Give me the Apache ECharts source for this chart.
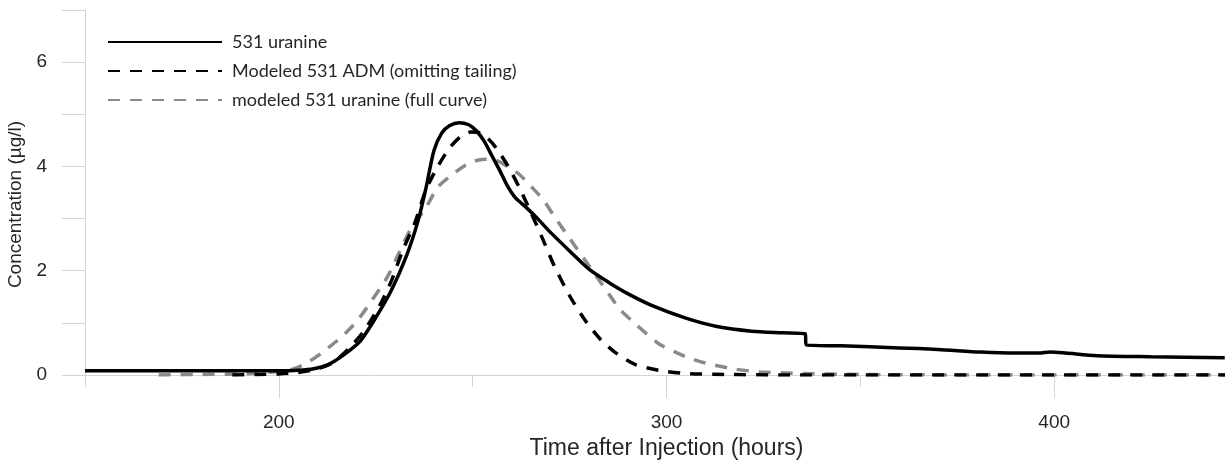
<!DOCTYPE html>
<html>
<head>
<meta charset="utf-8">
<script src="https://cdn.jsdelivr.net/npm/echarts@6/dist/echarts.min.js"></script>
<style>
html, body { margin: 0; padding: 0; background: #fff; }
#chart { width: 1225px; height: 463px; }
</style>
</head>
<body>
<div id="chart"></div>
<script>
// series names
var seriesNames = ['531 uranine', 'Modeled 531 ADM (omitting tailing)', 'modeled 531 uranine (full curve)'];

// measured 531 uranine
var obsTime = [150, 170, 190, 200, 205, 209, 213, 217, 221, 225, 229, 233, 236, 238, 240, 242, 244, 246.5, 249, 251, 253, 255, 257, 259, 261, 264, 267, 270, 275, 280, 285, 290, 296, 305, 313, 322, 330, 335.8, 336, 345, 360, 370, 381, 390, 396, 399, 403, 411, 425, 444];
var obsConc = [0.08, 0.08, 0.08, 0.08, 0.09, 0.12, 0.21, 0.4, 0.65, 1.1, 1.62, 2.3, 2.98, 3.6, 4.3, 4.64, 4.78, 4.84, 4.8, 4.68, 4.48, 4.2, 3.92, 3.62, 3.4, 3.2, 2.98, 2.74, 2.38, 2.03, 1.78, 1.56, 1.34, 1.09, 0.93, 0.84, 0.81, 0.79, 0.58, 0.56, 0.52, 0.49, 0.44, 0.42, 0.42, 0.44, 0.42, 0.37, 0.35, 0.33];

// ADM model, tailing omitted
var admTime = [188, 195, 200, 205, 210, 214, 218, 222, 226, 229, 232, 235, 238, 241, 244, 247, 249.5, 252, 254, 256, 259, 262, 265, 268, 271, 275, 279, 283, 287, 292, 298, 305, 315, 330, 350, 380, 450];
var admConc = [0, 0.01, 0.02, 0.05, 0.12, 0.24, 0.5, 0.85, 1.33, 1.8, 2.4, 2.9, 3.56, 4.0, 4.35, 4.58, 4.66, 4.64, 4.53, 4.36, 4.02, 3.6, 3.12, 2.62, 2.1, 1.52, 1.05, 0.68, 0.42, 0.2, 0.09, 0.03, 0.01, 0, 0, 0, 0];

// full curve model
var fullTime = [169, 180, 190, 197, 203, 207, 211, 216, 220, 224, 228, 231, 234, 238, 241, 245, 249, 253, 256, 259, 262, 265, 268, 271, 275, 279, 283, 288, 292, 298, 305, 310, 317, 324, 335, 350, 380, 450];
var fullConc = [0, 0.01, 0.02, 0.05, 0.1, 0.22, 0.42, 0.72, 1.02, 1.43, 1.88, 2.34, 2.8, 3.22, 3.6, 3.86, 4.06, 4.14, 4.12, 4.0, 3.85, 3.62, 3.38, 3.05, 2.62, 2.2, 1.78, 1.26, 0.98, 0.6, 0.35, 0.23, 0.12, 0.06, 0.03, 0.01, 0, 0];

var xMajorTicks = [200, 300, 400];

function pairs(t, c) {
	return t.map(function(v, i) { return [v, c[i]]; });
}

var myChart = echarts.init(document.getElementById('chart'));
var axisGray = '#d4d4d4';
var textColor = '#262626';

var option = {
	animation: false,
	backgroundColor: '#fff',
	grid: { left: 85, top: 10, width: 1163, height: 365, outerBoundsMode: 'none' },
	legend: {
		orient: 'vertical',
		left: 107,
		top: 33,
		padding: 0,
		itemWidth: 114,
		itemHeight: 14,
		itemGap: 11,
		itemStyle: { opacity: 0 },
		textStyle: { fontFamily: 'Lato', fontSize: 18, color: textColor, padding: [0, 0, 0, 5] },
		data: seriesNames
	},
	xAxis: [{
		type: 'value',
		min: 150,
		max: 450,
		interval: 50,
		position: 'bottom',
		name: 'Time after Injection (hours)',
		nameLocation: 'middle',
		nameGap: 47,
		nameTextStyle: { fontFamily: 'Liberation Sans', fontSize: 23, color: textColor },
		axisLine: { onZero: false, lineStyle: { color: axisGray, width: 1 } },
		axisTick: { length: 12, lineStyle: { color: axisGray } },
		axisLabel: {
			margin: 38,
			fontFamily: 'Liberation Sans',
			fontSize: 19,
			color: textColor,
			formatter: function(v) { return v % 100 === 0 && v < 450 ? v : ''; }
		},
		splitLine: { show: false }
	}, {
		type: 'value',
		min: 150,
		max: 450,
		position: 'bottom',
		axisLine: { show: false },
		axisTick: { show: true, length: 23, customValues: xMajorTicks, lineStyle: { color: axisGray } },
		axisLabel: { show: false },
		splitLine: { show: false }
	}],
	yAxis: {
		type: 'value',
		min: 0,
		max: 7,
		interval: 1,
		name: 'Concentration (\u00b5g/l)',
		nameLocation: 'middle',
		nameGap: 55,
		nameTextStyle: { fontFamily: 'Liberation Sans', fontSize: 19, color: textColor, padding: [0, 24, 0, 0] },
		axisLine: { show: true, lineStyle: { color: axisGray, width: 1 } },
		axisTick: { show: true, length: 23, lineStyle: { color: axisGray } },
		axisLabel: {
			margin: 38,
			fontFamily: 'Liberation Sans',
			fontSize: 19,
			color: textColor,
			formatter: function(v) { return v % 2 === 0 ? v : ''; }
		},
		splitLine: { show: false }
	},
	series: [{
		name: seriesNames[0],
		type: 'line',
		symbol: 'none',
		smooth: 0.25,
		lineStyle: { color: '#000', width: 3.5, type: 'solid' },
		itemStyle: { color: '#000' },
		data: pairs(obsTime, obsConc),
		z: 3
	}, {
		name: seriesNames[1],
		type: 'line',
		symbol: 'none',
		smooth: 0.25,
		lineStyle: { color: '#000', width: 3.5, type: [12, 10] },
		itemStyle: { color: '#000' },
		data: pairs(admTime, admConc),
		z: 2
	}, {
		name: seriesNames[2],
		type: 'line',
		symbol: 'none',
		smooth: 0.25,
		lineStyle: { color: '#8a8a8a', width: 3.5, type: [12, 10] },
		itemStyle: { color: '#8a8a8a' },
		data: pairs(fullTime, fullConc),
		z: 1
	}]
};

if (option && typeof option === 'object') {
	myChart.setOption(option, true);
}
</script>
</body>
</html>
